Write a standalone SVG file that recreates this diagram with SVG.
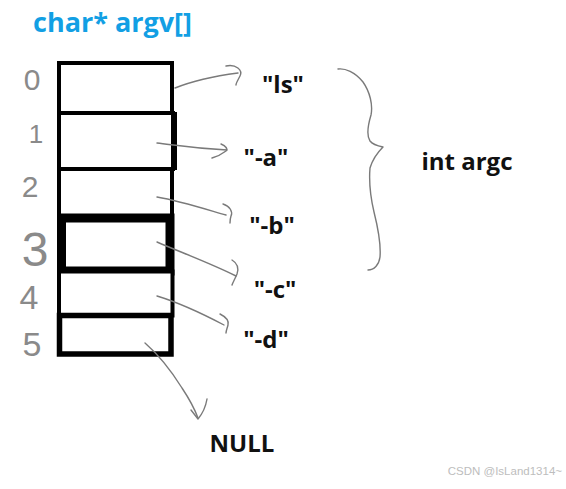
<svg xmlns="http://www.w3.org/2000/svg" width="566" height="489" viewBox="0 0 566 489">
<style>
.title{font-family:"Open Sans","Liberation Sans",sans-serif;font-weight:700;font-size:27px;fill:#129fe4}
.lbl{font-family:"Open Sans","Liberation Sans",sans-serif;font-weight:700;font-size:24px;fill:#111;text-anchor:middle}
.idx{font-family:"Liberation Sans","DejaVu Sans",sans-serif;fill:#8a8a8a;text-anchor:middle}
.cell{fill:#fff;stroke:#000}
.wire{fill:none;stroke:#7a7a7a;stroke-width:1.4;stroke-linecap:round;stroke-linejoin:round}
.wm{font-family:"Liberation Sans",sans-serif;font-size:11.5px;fill:#bdbdbd;text-anchor:end}
</style>
<rect width="566" height="489" fill="#fff"/>
<text class="title" x="33" y="32">char* argv[]</text>

<g id="cell0"><rect class="cell" x="59" y="63" width="113" height="50" stroke-width="4"/><text class="idx" x="32" y="90" font-size="30">0</text></g>
<g id="cell1"><rect class="cell" x="59" y="113" width="114" height="56" stroke-width="4"/><line x1="174" y1="112" x2="174" y2="170" stroke="#000" stroke-width="6"/><text class="idx" x="36" y="143" font-size="26">1</text></g>
<g id="cell2"><rect class="cell" x="59" y="169" width="113" height="50" stroke-width="4"/><text class="idx" x="30" y="197" font-size="30">2</text></g>
<g id="cell3"><rect class="cell" x="61.5" y="218" width="108.5" height="53" stroke-width="9"/><text class="idx" x="35" y="266" font-size="48">3</text></g>
<g id="cell4"><rect class="cell" x="59" y="271.5" width="113.5" height="44" stroke-width="4"/><text class="idx" x="29" y="309" font-size="34">4</text></g>
<g id="cell5"><rect class="cell" x="59.5" y="315.5" width="111.5" height="38.5" stroke-width="5.5"/><text class="idx" x="32" y="356" font-size="34">5</text></g>

<g id="s0"><text class="lbl" x="283" y="93">"ls"</text></g>
<g id="s1"><text class="lbl" x="266" y="166">"-a"</text></g>
<g id="s2"><text class="lbl" x="272" y="234">"-b"</text></g>
<g id="s3"><text class="lbl" x="275" y="298">"-c"</text></g>
<g id="s4"><text class="lbl" x="266" y="348">"-d"</text></g>
<g id="null"><text class="lbl" x="242" y="452" font-size="25">NULL</text></g>
<g id="argc"><text class="lbl" x="467" y="170">int argc</text></g>

<g id="connectors">
<path class="wire" d="M175,88 C190,82 208,77 238,73"/>
<path class="wire" d="M226,66 C236,64 243,70 240,76 C238,80 236,83 236,85"/>
<path class="wire" d="M157,143 C175,145 190,148 227,150"/>
<path class="wire" d="M221,144 C226,146 228,149 226,151 C222,154 216,157 212,158"/>
<path class="wire" d="M157,197 C180,201 205,209 226,215"/>
<path class="wire" d="M223,204 C230,206 233,212 231,216 C230,219 230,221 230,223"/>
<path class="wire" d="M157,242 C180,252 210,263 236,276"/>
<path class="wire" d="M232,260 C237,263 239,268 237,274 C235,279 233,282 232,285"/>
<path class="wire" d="M157,296 C180,303 205,315 224,325"/>
<path class="wire" d="M220,314 C226,317 229,321 228,325 C227,329 226,331 226,333"/>
<path class="wire" d="M145,343 C160,356 172,372 182,388 C190,400 195,410 198,418"/>
<path class="wire" d="M191,410 L198,419 C203,413 206,405 207,399"/>
<path class="wire" d="M338,69 C345,68 355,72 363,82 C370,92 373,105 371,115 C368,125 366,135 370,141 C373,145 378,146 383,147 C379,151 373,158 370,168 C369,180 370,195 374,212 C378,228 381,245 380,257 C379,265 374,270 368,270"/>
</g>
<text class="wm" x="562" y="475">CSDN @IsLand1314~</text>
</svg>
